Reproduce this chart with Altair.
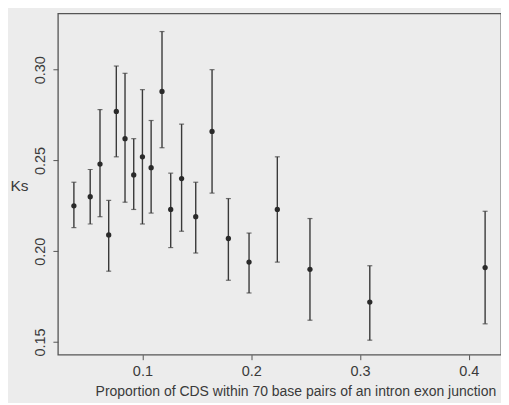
import altair as alt
import pandas as pd

prop = [0.037, 0.052, 0.061, 0.069, 0.076, 0.084, 0.092, 0.100, 0.108, 0.118,
        0.126, 0.136, 0.149, 0.164, 0.179, 0.198, 0.224, 0.254, 0.309, 0.415]
ks = [0.225, 0.230, 0.248, 0.209, 0.277, 0.262, 0.242, 0.252, 0.246, 0.288,
      0.223, 0.240, 0.219, 0.266, 0.207, 0.194, 0.223, 0.190, 0.172, 0.191]
ks_lo = [0.213, 0.215, 0.219, 0.189, 0.252, 0.227, 0.223, 0.215, 0.221, 0.257,
         0.202, 0.211, 0.199, 0.232, 0.184, 0.177, 0.194, 0.162, 0.151, 0.160]
ks_hi = [0.238, 0.245, 0.278, 0.228, 0.302, 0.298, 0.262, 0.289, 0.272, 0.321,
         0.243, 0.270, 0.238, 0.300, 0.229, 0.210, 0.252, 0.218, 0.192, 0.222]
x_ticks = [0.1, 0.2, 0.3, 0.4]
y_ticks = [0.15, 0.20, 0.25, 0.30]

df = pd.DataFrame({"prop": prop, "ks": ks, "lo": ks_lo, "hi": ks_hi})

INK = "#3a3a3a"
FONT = "Liberation Sans"

xs = alt.Scale(domain=[0.0223, 0.4296], nice=False, zero=False)
ys = alt.Scale(domain=[0.143, 0.331], nice=False, zero=False)

xaxis = alt.Axis(values=x_ticks, format=".1~f", grid=False, domain=False,
                 tickSize=5, tickColor="#555", labelColor=INK, labelFont=FONT,
                 labelFontSize=14.5, labelPadding=5,
                 title="Proportion of CDS within 70 base pairs of an intron exon junction",
                 titleFont=FONT, titleFontSize=14, titleFontWeight="normal",
                 titleColor=INK, titleX=238, titleY=37, titleAlign="center",
                 titleBaseline="middle")
yaxis = alt.Axis(values=y_ticks, format=".2f", grid=False, domain=False,
                 tickSize=5, tickColor="#555", labelColor=INK, labelFont=FONT,
                 labelFontSize=14.5, labelPadding=5, labelAngle=270,
                 labelAlign="center", labelBaseline="bottom",
                 title="Ks", titleFont=FONT, titleFontSize=15.5,
                 titleFontWeight="normal", titleColor=INK, titleAngle=0,
                 titleX=-39, titleY=172, titleAlign="center",
                 titleBaseline="middle")

base = alt.Chart(df)

rules = base.mark_rule(color=INK, strokeWidth=1.4).encode(
    x=alt.X("prop:Q", scale=xs, axis=xaxis),
    y=alt.Y("lo:Q", scale=ys, axis=yaxis),
    y2="hi:Q",
)
cap_lo = base.mark_tick(color=INK, thickness=1.2, size=5, orient="horizontal").encode(
    x=alt.X("prop:Q", scale=xs), y=alt.Y("lo:Q", scale=ys))
cap_hi = base.mark_tick(color=INK, thickness=1.2, size=5, orient="horizontal").encode(
    x=alt.X("prop:Q", scale=xs), y=alt.Y("hi:Q", scale=ys))
pts = base.mark_circle(color="#2a2a2a", size=28, opacity=1).encode(
    x=alt.X("prop:Q", scale=xs), y=alt.Y("ks:Q", scale=ys))

chart = alt.layer(rules, cap_lo, cap_hi, pts).properties(
    width=444, height=342,
    autosize=alt.AutoSizeParams(type="none"),
    padding={"left": 50, "top": 5, "right": 0, "bottom": 48},
    background="#ececec",
).configure_view(stroke="#555", strokeWidth=1.3)

chart.save("out.html", embed_options={"renderer": "svg", "actions": False})
